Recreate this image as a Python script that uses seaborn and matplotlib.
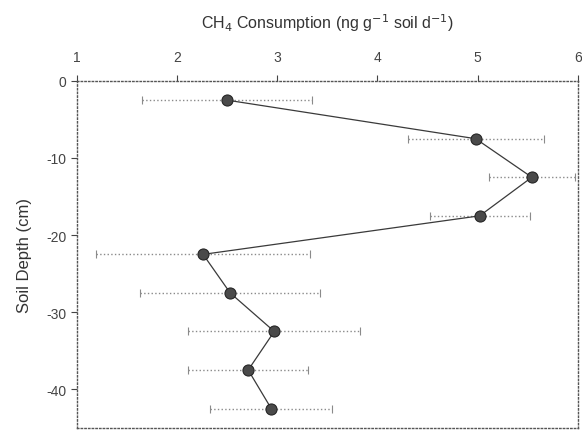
import matplotlib
matplotlib.use("Agg")
import matplotlib.pyplot as plt
import seaborn as sns
import pandas as pd

# CH4 consumption by depth
depth = [-2.5, -7.5, -12.5, -17.5, -22.5, -27.5, -32.5, -37.5, -42.5]
consumption = [2.50, 4.98, 5.54, 5.02, 2.26, 2.53, 2.97, 2.71, 2.94]
err = [0.85, 0.68, 0.43, 0.50, 1.07, 0.90, 0.86, 0.60, 0.61]
x_ticks = [1, 2, 3, 4, 5, 6]
y_ticks = [0, -10, -20, -30, -40]

df = pd.DataFrame({"depth": depth, "cons": consumption, "err": err})

sns.set_style("ticks")
plt.rcParams["font.family"] = ["Liberation Sans", "DejaVu Sans"]
plt.rcParams["axes.unicode_minus"] = False

fig, ax = plt.subplots(figsize=(5.82, 4.31), dpi=100)
fig.subplots_adjust(left=0.132, right=0.993, top=0.810, bottom=0.005)

ax.errorbar(df["cons"], df["depth"], xerr=df["err"], fmt="none",
            ecolor="#8a8a8a", elinewidth=1.0, linestyle=":", capsize=3,
            capthick=0.8, zorder=1)
eb = ax.containers[-1]
for c in eb.lines[2]:
    c.set_linestyle(":")

sns.lineplot(data=df, x="cons", y="depth", sort=False, ax=ax,
             color="#3a3a3a", linewidth=0.9, marker="o", markersize=8,
             markerfacecolor="#4a4a4a", markeredgecolor="#222222", zorder=3)

ax.set_xlim(1, 6)
ax.set_ylim(-45, 0)
ax.set_xticks(x_ticks)
ax.set_yticks(y_ticks)
ax.xaxis.tick_top()
ax.xaxis.set_label_position("top")
ax.tick_params(axis="both", labelsize=10, colors="#444444", length=4, width=0.8)
ax.tick_params(axis="x", pad=8)

ax.set_xlabel("CH$_4$ Consumption (ng g$^{-1}$ soil d$^{-1}$)", fontsize=11.5,
              color="#333333", labelpad=16)
ax.set_ylabel("Soil Depth (cm)", fontsize=12, color="#333333", labelpad=10)

for s in ax.spines.values():
    s.set_visible(True)
    s.set_linestyle(":")
    s.set_linewidth(1.0)
    s.set_color("#555555")

fig.savefig("out.png", dpi=100)
